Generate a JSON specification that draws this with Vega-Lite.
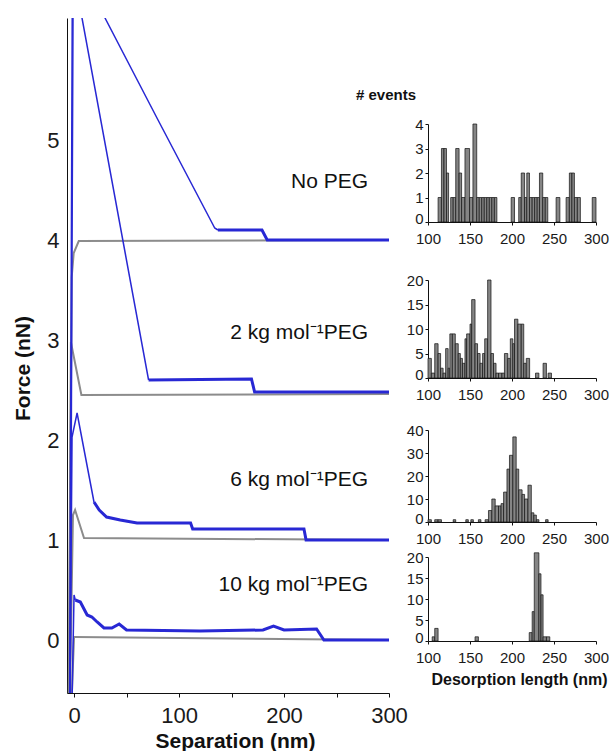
{
  "$schema": "https://vega.github.io/schema/vega-lite/v6.json",
  "padding": {"left": 12, "top": 18, "right": 0, "bottom": 0},
  "background": "white",
  "config": {
    "view": {"stroke": null},
    "font": "Liberation Sans",
    "axis": {"grid": false, "domainColor": "#111", "tickColor": "#111", "labelColor": "#1a1a1a", "titleColor": "#111", "labelFont": "Liberation Sans", "titleFont": "Liberation Sans", "labelFlush": false, "labelOverlap": false}
  },
  "datasets": {
    "curves": [
      {"s":"GA","kind":"a","part":"p","x":-5.5,"F":-1.5},{"s":"GA","kind":"a","part":"p","x":-2.2,"F":3.63},{"s":"GA","kind":"a","part":"p","x":-0.3,"F":3.87},{"s":"GA","kind":"a","part":"p","x":4.5,"F":3.99},{"s":"GA","kind":"a","part":"p","x":300,"F":4.0},
      {"s":"GB","kind":"a","part":"p","x":-5.5,"F":-1.5},{"s":"GB","kind":"a","part":"p","x":-3,"F":2.98},{"s":"GB","kind":"a","part":"p","x":7,"F":2.45},{"s":"GB","kind":"a","part":"p","x":300,"F":2.46},
      {"s":"GC","kind":"a","part":"p","x":-5.5,"F":-1.5},{"s":"GC","kind":"a","part":"p","x":-1,"F":1.25},{"s":"GC","kind":"a","part":"p","x":1,"F":1.3},{"s":"GC","kind":"a","part":"p","x":9.5,"F":1.02},{"s":"GC","kind":"a","part":"p","x":300,"F":1.0},
      {"s":"GD","kind":"a","part":"p","x":-5.5,"F":-1.5},{"s":"GD","kind":"a","part":"p","x":0,"F":0.03},{"s":"GD","kind":"a","part":"p","x":1,"F":0.03},{"s":"GD","kind":"a","part":"p","x":300,"F":0.0},
      {"s":"A","kind":"r","part":"ramp","x":-4.5,"F":-1.5},{"s":"A","kind":"r","part":"ramp","x":-1.5,"F":6.85},{"s":"A","kind":"r","part":"ramp","x":29.5,"F":6.22},{"s":"A","kind":"r","part":"ramp","x":80,"F":5.2},{"s":"A","kind":"r","part":"ramp","x":122,"F":4.36},{"s":"A","kind":"r","part":"ramp","x":130,"F":4.2},{"s":"A","kind":"r","part":"ramp","x":134,"F":4.12},{"s":"A","kind":"r","part":"ramp","x":137,"F":4.1},
      {"s":"A","kind":"r","part":"plateau","x":137,"F":4.1},{"s":"A","kind":"r","part":"plateau","x":179,"F":4.1},{"s":"A","kind":"r","part":"plateau","x":184,"F":4.0},{"s":"A","kind":"r","part":"plateau","x":300,"F":4.0},
      {"s":"B","kind":"r","part":"ramp","x":-4,"F":-1.5},{"s":"B","kind":"r","part":"ramp","x":-0.8,"F":6.7},{"s":"B","kind":"r","part":"ramp","x":7.6,"F":6.22},{"s":"B","kind":"r","part":"ramp","x":48.9,"F":3.86},{"s":"B","kind":"r","part":"ramp","x":71,"F":2.6},
      {"s":"B","kind":"r","part":"plateau","x":71,"F":2.6},{"s":"B","kind":"r","part":"plateau","x":169,"F":2.61},{"s":"B","kind":"r","part":"plateau","x":172,"F":2.48},{"s":"B","kind":"r","part":"plateau","x":300,"F":2.48},
      {"s":"C","kind":"r","part":"ramp","x":-4.5,"F":-1.5},{"s":"C","kind":"r","part":"ramp","x":-1.9,"F":2.03},{"s":"C","kind":"r","part":"ramp","x":2.9,"F":2.27},{"s":"C","kind":"r","part":"ramp","x":19,"F":1.38},
      {"s":"C","kind":"r","part":"plateau","x":19,"F":1.38},{"s":"C","kind":"r","part":"plateau","x":24,"F":1.3},{"s":"C","kind":"r","part":"plateau","x":31,"F":1.23},{"s":"C","kind":"r","part":"plateau","x":44,"F":1.2},{"s":"C","kind":"r","part":"plateau","x":60,"F":1.17},{"s":"C","kind":"r","part":"plateau","x":111,"F":1.17},{"s":"C","kind":"r","part":"plateau","x":113,"F":1.11},{"s":"C","kind":"r","part":"plateau","x":219,"F":1.11},{"s":"C","kind":"r","part":"plateau","x":221,"F":1.0},{"s":"C","kind":"r","part":"plateau","x":300,"F":1.0},
      {"s":"D","kind":"r","part":"ramp","x":-3.5,"F":-1.5},{"s":"D","kind":"r","part":"ramp","x":0,"F":0.45},{"s":"D","kind":"r","part":"ramp","x":1.2,"F":0.4},
      {"s":"D","kind":"r","part":"plateau","x":1.2,"F":0.4},{"s":"D","kind":"r","part":"plateau","x":6,"F":0.38},{"s":"D","kind":"r","part":"plateau","x":12.5,"F":0.25},{"s":"D","kind":"r","part":"plateau","x":17,"F":0.23},{"s":"D","kind":"r","part":"plateau","x":22,"F":0.18},{"s":"D","kind":"r","part":"plateau","x":28.5,"F":0.12},{"s":"D","kind":"r","part":"plateau","x":36,"F":0.12},{"s":"D","kind":"r","part":"plateau","x":43,"F":0.16},{"s":"D","kind":"r","part":"plateau","x":50,"F":0.1},{"s":"D","kind":"r","part":"plateau","x":120,"F":0.09},{"s":"D","kind":"r","part":"plateau","x":180,"F":0.1},{"s":"D","kind":"r","part":"plateau","x":190,"F":0.14},{"s":"D","kind":"r","part":"plateau","x":200,"F":0.1},{"s":"D","kind":"r","part":"plateau","x":231,"F":0.11},{"s":"D","kind":"r","part":"plateau","x":238,"F":0.0},{"s":"D","kind":"r","part":"plateau","x":300,"F":0.0}
    ],
    "labels": [
      {"label": "No PEG", "x": 280, "F": 4.58},
      {"label": "2 kg mol\u207b\u00b9PEG", "x": 280, "F": 3.07},
      {"label": "6 kg mol\u207b\u00b9PEG", "x": 280, "F": 1.6},
      {"label": "10 kg mol\u207b\u00b9PEG", "x": 280, "F": 0.55}
    ],
    "hist": [
      {"panel":"none","start":112,"end":116,"n":1},{"panel":"none","start":116,"end":119,"n":3},{"panel":"none","start":119,"end":122,"n":3},{"panel":"none","start":122,"end":124.5,"n":2},{"panel":"none","start":127,"end":130,"n":1},{"panel":"none","start":130,"end":133,"n":1},{"panel":"none","start":133,"end":137,"n":3},{"panel":"none","start":137,"end":140,"n":2},{"panel":"none","start":140,"end":144,"n":1},{"panel":"none","start":144,"end":149.5,"n":3},{"panel":"none","start":149.5,"end":153.5,"n":1},{"panel":"none","start":153.5,"end":158,"n":4},
      {"panel":"none","start":158,"end":161,"n":1},{"panel":"none","start":161,"end":164,"n":1},{"panel":"none","start":164,"end":167,"n":1},{"panel":"none","start":167,"end":170,"n":1},{"panel":"none","start":170,"end":173,"n":1},{"panel":"none","start":173,"end":176,"n":1},{"panel":"none","start":176,"end":179,"n":1},{"panel":"none","start":179,"end":182,"n":1},
      {"panel":"none","start":199,"end":203,"n":1},{"panel":"none","start":208,"end":211,"n":1},{"panel":"none","start":211,"end":215,"n":2},{"panel":"none","start":215,"end":217.6,"n":1},{"panel":"none","start":217.6,"end":220.8,"n":2},{"panel":"none","start":220.8,"end":224,"n":1},{"panel":"none","start":224,"end":227,"n":1},{"panel":"none","start":227,"end":230,"n":1},{"panel":"none","start":230,"end":232.7,"n":1},{"panel":"none","start":232.7,"end":236.6,"n":2},{"panel":"none","start":236.6,"end":239.6,"n":1},{"panel":"none","start":239.6,"end":242.6,"n":1},
      {"panel":"none","start":252.5,"end":257,"n":1},{"panel":"none","start":264.4,"end":268.3,"n":1},{"panel":"none","start":268.3,"end":271.3,"n":2},{"panel":"none","start":271.3,"end":274.3,"n":2},{"panel":"none","start":274.3,"end":277.8,"n":1},{"panel":"none","start":277.8,"end":281.4,"n":1},{"panel":"none","start":295.5,"end":300,"n":1},
      {"panel":"2k","start":100,"end":104,"n":4},{"panel":"2k","start":104,"end":108,"n":1},{"panel":"2k","start":108,"end":112,"n":7},{"panel":"2k","start":112,"end":115,"n":5},{"panel":"2k","start":115,"end":118,"n":2},{"panel":"2k","start":118,"end":121,"n":1},{"panel":"2k","start":121,"end":124,"n":6},{"panel":"2k","start":124,"end":126,"n":2},{"panel":"2k","start":126,"end":129,"n":9},{"panel":"2k","start":129,"end":132.5,"n":9},{"panel":"2k","start":132.5,"end":136,"n":7},{"panel":"2k","start":136,"end":138.5,"n":5},{"panel":"2k","start":138.5,"end":141,"n":4},{"panel":"2k","start":141,"end":144,"n":3},{"panel":"2k","start":144,"end":146,"n":8},{"panel":"2k","start":146,"end":150,"n":9},{"panel":"2k","start":150,"end":152,"n":11},{"panel":"2k","start":152,"end":156,"n":16},{"panel":"2k","start":156,"end":159,"n":7},{"panel":"2k","start":159,"end":162,"n":5},{"panel":"2k","start":162,"end":165,"n":3},{"panel":"2k","start":165,"end":167.5,"n":5},{"panel":"2k","start":167.5,"end":171,"n":8},{"panel":"2k","start":171,"end":175,"n":20},{"panel":"2k","start":175,"end":178,"n":5},{"panel":"2k","start":178,"end":181,"n":3},{"panel":"2k","start":181,"end":184,"n":1},{"panel":"2k","start":184,"end":188,"n":1},{"panel":"2k","start":188,"end":191,"n":1},{"panel":"2k","start":191,"end":195,"n":5},{"panel":"2k","start":195,"end":198,"n":4},{"panel":"2k","start":198,"end":201,"n":8},{"panel":"2k","start":201,"end":203,"n":7},{"panel":"2k","start":203,"end":207,"n":12},{"panel":"2k","start":207,"end":211,"n":11},{"panel":"2k","start":211,"end":214,"n":11},{"panel":"2k","start":214,"end":217,"n":3},{"panel":"2k","start":217,"end":221,"n":4},{"panel":"2k","start":228,"end":232,"n":1},{"panel":"2k","start":237,"end":241,"n":3},{"panel":"2k","start":243,"end":247,"n":1},
      {"panel":"6k","start":100,"end":104,"n":1},{"panel":"6k","start":108,"end":112,"n":1},{"panel":"6k","start":112,"end":116,"n":1},{"panel":"6k","start":130,"end":133,"n":1},{"panel":"6k","start":145,"end":148,"n":1},{"panel":"6k","start":151,"end":154,"n":1},{"panel":"6k","start":160,"end":163,"n":1},{"panel":"6k","start":168,"end":172,"n":1},
      {"panel":"6k","start":172,"end":176,"n":5},{"panel":"6k","start":176,"end":180,"n":10},{"panel":"6k","start":180,"end":184,"n":7},{"panel":"6k","start":184,"end":187,"n":7},{"panel":"6k","start":187,"end":190,"n":8},{"panel":"6k","start":190,"end":194,"n":13},{"panel":"6k","start":194,"end":197,"n":23},{"panel":"6k","start":197,"end":201,"n":29},{"panel":"6k","start":201,"end":205,"n":37},{"panel":"6k","start":205,"end":208,"n":23},{"panel":"6k","start":208,"end":212,"n":14},{"panel":"6k","start":212,"end":215,"n":12},{"panel":"6k","start":215,"end":219,"n":10},{"panel":"6k","start":219,"end":223,"n":16},{"panel":"6k","start":223,"end":226,"n":4},{"panel":"6k","start":226,"end":229,"n":3},{"panel":"6k","start":229,"end":232,"n":1},{"panel":"6k","start":240,"end":243,"n":1},
      {"panel":"10k","start":105,"end":108,"n":1},{"panel":"10k","start":108,"end":112,"n":3},{"panel":"10k","start":156,"end":160,"n":1},{"panel":"10k","start":220.5,"end":224,"n":2},{"panel":"10k","start":224,"end":226.5,"n":7},{"panel":"10k","start":226.5,"end":232,"n":21},{"panel":"10k","start":232,"end":234.5,"n":16},{"panel":"10k","start":234.5,"end":237,"n":11},{"panel":"10k","start":237,"end":241,"n":1},{"panel":"10k","start":241,"end":245,"n":1}
    ]
  },
  "spacing": -52,
  "hconcat": [
    {
      "width": 322,
      "height": 675,
      "encoding": {
        "x": {"field": "x", "type": "quantitative", "scale": {"domain": [-6.7, 300], "nice": false, "zero": false},
              "axis": {"title": "Separation (nm)", "values": [0, 50, 100, 150, 200, 250, 300], "format": "d", "labelExpr": "datum.value % 100 === 0 ? datum.label : ''", "tickSize": 4, "labelFontSize": 22, "labelPadding": 8, "titleFontSize": 21, "titleFontWeight": "bold", "titlePadding": 4, "titleX": 168}},
        "y": {"field": "F", "type": "quantitative", "scale": {"domain": [-0.53, 6.22], "nice": false, "zero": false},
              "axis": {"title": "Force (nN)", "values": [0, 1, 2, 3, 4, 5], "format": "d", "ticks": false, "tickSize": 0, "labelPadding": 8, "labelFontSize": 22, "titleFontSize": 21, "titleFontWeight": "bold", "titlePadding": 13, "titleY": 350}}
      },
      "layer": [
        {"data": {"name": "curves"}, "transform": [{"filter": "datum.kind == 'a'"}],
         "mark": {"type": "line", "clip": true, "color": "#8c8c8c", "strokeWidth": 2},
         "encoding": {"detail": {"field": "s"}}},
        {"data": {"name": "curves"}, "transform": [{"filter": "datum.kind == 'r' && datum.part == 'ramp'"}],
         "mark": {"type": "line", "clip": true, "color": "#2828d4", "strokeWidth": 1.5},
         "encoding": {"detail": {"field": "s"}}},
        {"data": {"name": "curves"}, "transform": [{"filter": "datum.kind == 'r' && datum.part == 'plateau'"}],
         "mark": {"type": "line", "clip": true, "color": "#2828d4", "strokeWidth": 3},
         "encoding": {"detail": {"field": "s"}}},
        {"data": {"name": "labels"},
         "mark": {"type": "text", "align": "right", "baseline": "middle", "fontSize": 21, "color": "#111", "font": "Liberation Sans"},
         "encoding": {"text": {"field": "label"}}}
      ]
    },
    {
      "bounds": "flush",
      "spacing": 0,
      "vconcat": [
        {"width": 168, "height": 106, "data": {"values": []}, "mark": "point"},
        {
          "width": 168, "height": 98,
          "data": {"name": "hist"},
          "transform": [{"filter": "datum.panel == 'none'"}],
          "title": {"text": "# events", "anchor": "start", "frame": "group", "dx": -72, "offset": 14, "fontSize": 15, "fontWeight": "bold", "color": "#111", "font": "Liberation Sans"},
          "mark": {"type": "rect", "fill": "#858585", "stroke": "#111", "strokeWidth": 0.7},
          "encoding": {
            "x": {"field": "start", "type": "quantitative", "scale": {"domain": [100, 300], "nice": false, "zero": false}, "axis": {"title": null, "values": [100, 150, 200, 250, 300], "format": "d", "labelFontSize": 15, "tickSize": 3, "labelPadding": 6}},
            "x2": {"field": "end"},
            "y": {"field": "n", "type": "quantitative", "scale": {"domain": [0, 4], "nice": false}, "axis": {"title": null, "values": [0, 1, 2, 3, 4], "format": "d", "labelFontSize": 15, "tickSize": 3, "labelPadding": 2, "labelOffset": {"condition": {"test": "datum.value === 0", "value": -4}, "value": 0}}},
            "y2": {"datum": 0}
          }
        },
        {"width": 168, "height": 58, "data": {"values": []}, "mark": "point"},
        {
          "width": 168, "height": 98,
          "data": {"name": "hist"},
          "transform": [{"filter": "datum.panel == '2k'"}],
          "mark": {"type": "rect", "fill": "#858585", "stroke": "#111", "strokeWidth": 0.7},
          "encoding": {
            "x": {"field": "start", "type": "quantitative", "scale": {"domain": [100, 300], "nice": false, "zero": false}, "axis": {"title": null, "values": [100, 150, 200, 250, 300], "format": "d", "labelFontSize": 15, "tickSize": 3, "labelPadding": 6}},
            "x2": {"field": "end"},
            "y": {"field": "n", "type": "quantitative", "scale": {"domain": [0, 20], "nice": false}, "axis": {"title": null, "values": [0, 5, 10, 15, 20], "format": "d", "labelFontSize": 15, "tickSize": 3, "labelPadding": 2, "labelOffset": {"condition": {"test": "datum.value === 0", "value": -4}, "value": 0}}},
            "y2": {"datum": 0}
          }
        },
        {"width": 168, "height": 52, "data": {"values": []}, "mark": "point"},
        {
          "width": 168, "height": 92,
          "data": {"name": "hist"},
          "transform": [{"filter": "datum.panel == '6k'"}],
          "mark": {"type": "rect", "fill": "#858585", "stroke": "#111", "strokeWidth": 0.7},
          "encoding": {
            "x": {"field": "start", "type": "quantitative", "scale": {"domain": [100, 300], "nice": false, "zero": false}, "axis": {"title": null, "values": [100, 150, 200, 250, 300], "format": "d", "labelFontSize": 15, "tickSize": 3, "labelPadding": 6}},
            "x2": {"field": "end"},
            "y": {"field": "n", "type": "quantitative", "scale": {"domain": [0, 40], "nice": false}, "axis": {"title": null, "values": [0, 10, 20, 30, 40], "format": "d", "labelFontSize": 15, "tickSize": 3, "labelPadding": 2, "labelOffset": {"condition": {"test": "datum.value === 0", "value": -4}, "value": 0}}},
            "y2": {"datum": 0}
          }
        },
        {"width": 168, "height": 35, "data": {"values": []}, "mark": "point"},
        {
          "width": 168, "height": 84,
          "data": {"name": "hist"},
          "transform": [{"filter": "datum.panel == '10k'"}],
          "mark": {"type": "rect", "fill": "#858585", "stroke": "#111", "strokeWidth": 0.7},
          "encoding": {
            "x": {"field": "start", "type": "quantitative", "scale": {"domain": [100, 300], "nice": false, "zero": false}, "axis": {"title": "Desorption length (nm)", "values": [100, 150, 200, 250, 300], "format": "d", "labelFontSize": 15, "tickSize": 3, "labelPadding": 6, "titleFontSize": 16, "titleFontWeight": "bold", "titlePadding": 6, "titleX": 91}},
            "x2": {"field": "end"},
            "y": {"field": "n", "type": "quantitative", "scale": {"domain": [0, 20], "nice": false}, "axis": {"title": null, "values": [0, 5, 10, 15, 20], "format": "d", "labelFontSize": 15, "tickSize": 3, "labelPadding": 2, "labelOffset": {"condition": {"test": "datum.value === 0", "value": -4}, "value": 0}}},
            "y2": {"datum": 0}
          }
        }
      ]
    }
  ]
}
